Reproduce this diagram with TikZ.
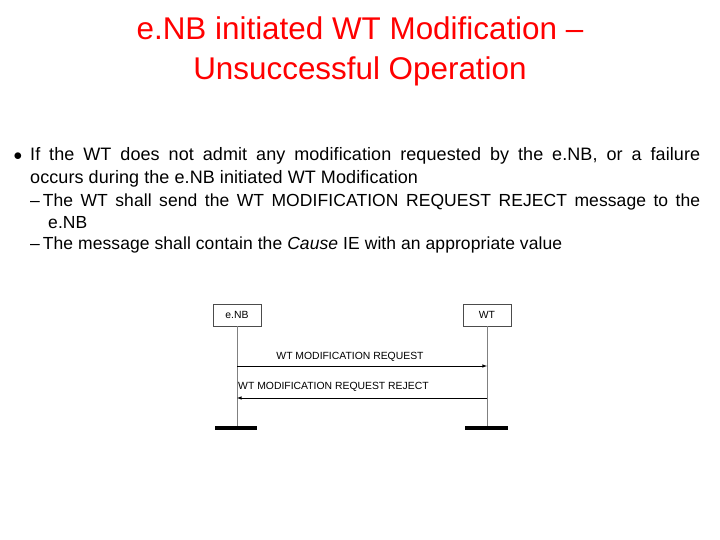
\documentclass[tikz,border=0pt]{standalone}
\usepackage{fontspec}
\setmainfont{Liberation Sans}
\usetikzlibrary{positioning}
\begin{document}
\begin{tikzpicture}[x=1pt, y=-1pt, font=\fontsize{10.4}{12}\selectfont,
    entity/.style={draw=black!70, fill=white, minimum width=48pt, minimum height=22pt, inner sep=0pt},
    life/.style={draw=black!50, line width=0.6pt},
    msg/.style={-latex, line width=0.6pt},
    stopbar/.style={line width=4pt}]
            \useasboundingbox (0,0) rectangle (720,540);
            % title
            \node[text=red, align=center, font=\fontsize{31.4}{40}\selectfont] (title) at (360,51)
                {e.NB initiated WT Modification --\\Unsuccessful Operation};
            % bullets
            \node[anchor=north west, inner sep=0pt, text width=670pt, align=justify,
                font=\fontsize{18}{23}\selectfont\addfontfeature{LetterSpace=0.5}] (txt) at (30,147)
                {\llap{$\bullet$\hspace{8pt}}If the WT does not admit any modification requested by the e.NB, or a failure\linebreak occurs during the e.NB initiated WT Modification};
            \node[anchor=north west, inner sep=0pt, text width=670pt, align=justify,
                font=\fontsize{17.5}{21.5}\selectfont\addfontfeature{LetterSpace=0.5}] (sub) at (30,194)
                {\hangindent=18pt --\,The WT shall send the WT MODIFICATION REQUEST REJECT message to the\linebreak e.NB\par
                 \hangindent=18pt --\,The message shall contain the \textit{Cause} IE with an appropriate value};
            % entities
            \node[entity] (enb) at (237,315) {e.NB};
            \node[entity] (wt) at (487,315) {WT};
            \coordinate (enbend) at (237,428);
            \coordinate (wtend) at (487,428);
            \draw[life] (enb) -- (enbend);
            \draw[life] (wt) -- (wtend);
            \draw[stopbar] (215,428) -- (257,428);
            \draw[stopbar] (465,428) -- (508,428);
            % messages
            \coordinate (m1s) at (237,366);
            \coordinate (m1e) at (487,366);
            \coordinate (m2s) at (487,398);
            \coordinate (m2e) at (237,398);
            \draw[msg] (m1s) -- node[above=1pt, xshift=-12pt] {WT MODIFICATION REQUEST} (m1e);
            \draw[msg] (m2s) -- (m2e);
            \node[anchor=south west, inner sep=0pt] (m2l) at (238,392) {WT MODIFICATION REQUEST REJECT};
\end{tikzpicture}
\end{document}
